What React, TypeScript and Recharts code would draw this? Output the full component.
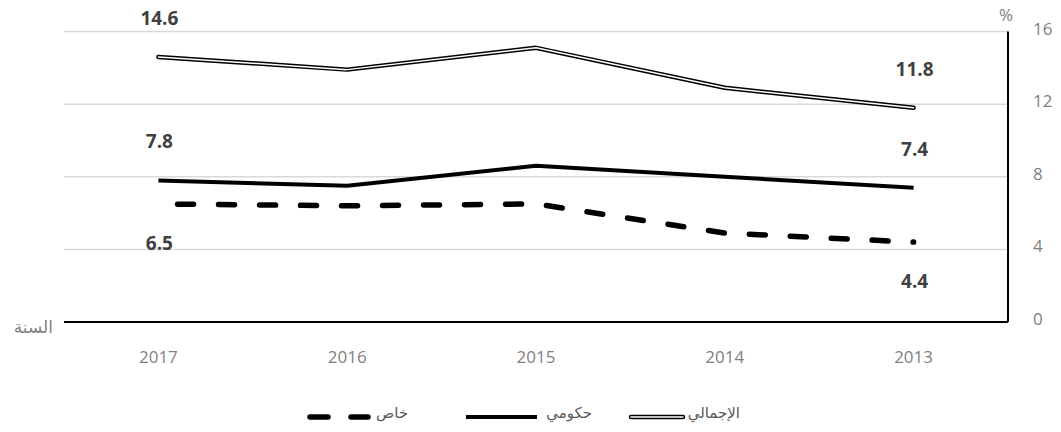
import React from "react";
import { LineChart, Line, XAxis, YAxis, CartesianGrid, LabelList, Label } from "recharts";

const years = ["2013", "2014", "2015", "2016", "2017"];
const total = [11.8, 12.9, 15.1, 13.9, 14.6];
const government = [7.4, 8.0, 8.6, 7.5, 7.8];
const privateSector = [4.4, 4.9, 6.5, 6.4, 6.5];
const yTicks = [0, 4, 8, 12, 16];

const seriesNames = { total: "الإجمالي", government: "حكومي", privateSector: "خاص" };
const axisTitleX = "السنة";
const axisTitleY = "%";

const data = years.map((y, i) => ({
  year: y,
  total: total[i],
  government: government[i],
  privateSector: privateSector[i],
}));

const FONT = "'Open Sans', 'DejaVu Sans', sans-serif";
const GRAY = "#7f7f7f";
const LABEL = "#404040";

const endLabel = (dy: number) => (props: any) => {
  const { x, y, value, index } = props;
  if (index !== 0 && index !== years.length - 1) return null;
  return (
    <text
      x={x + 1}
      y={y + dy}
      textAnchor="middle"
      dominantBaseline="central"
      fontFamily={FONT}
      fontWeight={700}
      fontSize={19}
      fill={LABEL}
    >
      {Number(value).toFixed(1)}
    </text>
  );
};

const LegendBar = () => (
  <svg
    width={1061}
    height={40}
    style={{ position: "absolute", left: 0, top: 395 }}
  >
    <g>
      <line x1={310} y1={22} x2={328} y2={22} stroke="#000" strokeWidth={5.5} strokeLinecap="round" />
      <line x1={351} y1={22} x2={368} y2={22} stroke="#000" strokeWidth={5.5} strokeLinecap="round" />
      <text x={408} y={17} textAnchor="end" dominantBaseline="central" fontFamily={FONT} fontSize={15} fill="#595959">
        {seriesNames.privateSector}
      </text>
    </g>
    <g>
      <line x1={466} y1={22} x2={537} y2={22} stroke="#000" strokeWidth={4} />
      <text x={592} y={17} textAnchor="end" dominantBaseline="central" fontFamily={FONT} fontSize={15} fill="#595959">
        {seriesNames.government}
      </text>
    </g>
    <g>
      <line x1={631} y1={22} x2={683} y2={22} stroke="#000" strokeWidth={4.5} strokeLinecap="round" />
      <line x1={631} y1={22} x2={683} y2={22} stroke="#fff" strokeWidth={1.5} strokeLinecap="round" />
      <text x={740} y={17} textAnchor="end" dominantBaseline="central" fontFamily={FONT} fontSize={15} fill="#595959">
        {seriesNames.total}
      </text>
    </g>
  </svg>
);

export default function App() {
  return (
    <div style={{ position: "absolute", left: 0, top: 0, width: 1061, height: 432, background: "#fff" }}>
      <LineChart
        width={1061}
        height={432}
        data={data}
        margin={{ top: 31.5, right: 0, left: 64, bottom: 70 }}
      >
        <CartesianGrid vertical={false} stroke="#d9d9d9" strokeWidth={1.5} />
        <XAxis
          dataKey="year"
          reversed
          height={40}
          padding={{ left: 94.4, right: 94.4 }}
          axisLine={{ stroke: "#000", strokeWidth: 2 }}
          tickLine={false}
          tickSize={0}
          tickMargin={29}
          tick={{ fill: GRAY, fontSize: 17, fontFamily: FONT }}
          interval={0}
        >
          <Label
            content={(p: any) => {
              const vb = p.viewBox || {};
              return (
                <text
                  x={vb.x - 11}
                  y={vb.y + 4}
                  textAnchor="end"
                  dominantBaseline="central"
                  fontFamily={FONT}
                  fontSize={17}
                  fill={GRAY}
                >
                  {axisTitleX}
                </text>
              );
            }}
          />
        </XAxis>
        <YAxis
          orientation="right"
          width={53}
          domain={[0, 16]}
          ticks={yTicks}
          axisLine={{ stroke: "#000", strokeWidth: 2 }}
          tickLine={false}
          tickSize={0}
          tickMargin={25}
          tick={{ fill: GRAY, fontSize: 17, fontFamily: FONT, dy: -3 }}
        >
          <Label
            content={(p: any) => {
              const vb = p.viewBox || {};
              return (
                <text
                  x={vb.x - 2}
                  y={vb.y - 17}
                  textAnchor="middle"
                  dominantBaseline="central"
                  fontFamily={FONT}
                  fontSize={17}
                  fill={GRAY}
                >
                  {axisTitleY}
                </text>
              );
            }}
          />
        </YAxis>
        <Line
          dataKey="total"
          stroke="#000"
          strokeWidth={4.5}
          dot={false}
          strokeLinejoin="round"
          strokeLinecap="round"
          isAnimationActive={false}
        >
          <LabelList dataKey="total" content={endLabel(-39)} />
        </Line>
        <Line
          dataKey="total"
          stroke="#fff"
          strokeWidth={1.5}
          dot={false}
          strokeLinejoin="round"
          strokeLinecap="round"
          isAnimationActive={false}
          legendType="none"
        />
        <Line
          dataKey="government"
          stroke="#000"
          strokeWidth={4}
          dot={false}
          strokeLinejoin="round"
          isAnimationActive={false}
        >
          <LabelList dataKey="government" content={endLabel(-39)} />
        </Line>
        <Line
          dataKey="privateSector"
          stroke="#000"
          strokeWidth={5.5}
          strokeDasharray="16 25"
          strokeDashoffset={15.5}
          strokeLinecap="round"
          dot={false}
          isAnimationActive={false}
        >
          <LabelList dataKey="privateSector" content={endLabel(39)} />
        </Line>
      </LineChart>
      <LegendBar />
    </div>
  );
}
